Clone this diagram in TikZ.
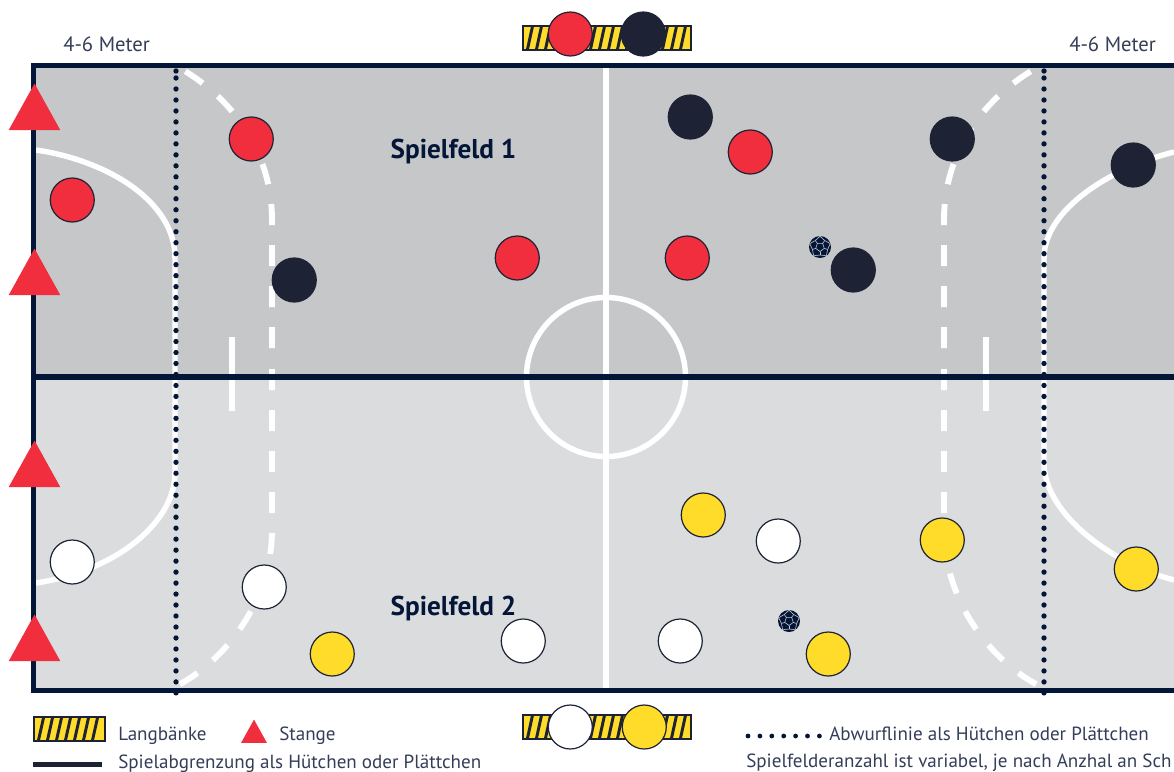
\documentclass[tikz,border=0pt]{standalone}
\usepackage{fontspec}
\setmainfont{PT Sans}
\usepackage{tikz}
\usetikzlibrary{calc, positioning, shapes.geometric}
\definecolor{fieldA}{RGB}{198, 199, 201}
\definecolor{fieldB}{RGB}{219, 220, 222}
\definecolor{navy}{RGB}{4, 22, 56}
\definecolor{darkteam}{RGB}{29, 34, 53}
\definecolor{redteam}{RGB}{241, 46, 62}
\definecolor{yellowteam}{RGB}{255, 220, 42}
\definecolor{labeltext}{RGB}{52, 62, 88}
\tikzset{
  player/.style={circle, draw=darkteam, line width=0.9pt, minimum size=33pt, inner sep=0pt, xshift=0.2pt},
  redplayer/.style={player, fill=redteam},
  darkplayer/.style={player, fill=darkteam},
  yellowplayer/.style={player, fill=yellowteam},
  whiteplayer/.style={player, fill=white},
  pole/.style={isosceles triangle, isosceles triangle apex angle=58, shape border rotate=90, fill=redteam, inner sep=0pt, minimum height=35pt},
  fieldline/.style={white, line width=4.1pt},
  dashline/.style={white, line width=4.4pt, dash pattern=on 15.75pt off 15pt},
  dotline/.style={navy, line width=4pt, line cap=round, dash pattern=on 0pt off 8.235pt},
  legendtext/.style={font=\fontsize{14.3}{16}\selectfont, text=labeltext, anchor=base west, inner sep=0pt},
  metertext/.style={legendtext, font=\fontsize{15.5}{18}\selectfont},
  fieldtitle/.style={font=\fontsize{20.4}{24}\selectfont\bfseries, text=navy, inner sep=0pt, anchor=base},
}
\newcommand{\bench}[5]{% left, top, right, bottom, name
  \node[fill=yellowteam, draw=darkteam, line width=1.5pt, inner sep=0pt, minimum width={(#3-#1)*0.75pt}, minimum height={(#4-#2)*0.75pt}] (#5) at ({(#1+#3)/2},{(#2+#4)/2}) {};
  \pgfmathsetmacro{\barstart}{#1+5}
  \pgfmathsetmacro{\barnext}{#1+14}
  \pgfmathsetmacro{\barend}{#3-7}
  \foreach \bx in {\barstart,\barnext,...,\barend} {
    \draw[darkteam, line width=2.2pt] (\bx,#4-0.8) -- (\bx+5,#2+0.8);
  }
}
\newcommand{\ball}[3]{% x, y, name
  \node[circle, fill=navy, minimum size=16.5pt, inner sep=0pt] (#3) at (#1,#2) {};
  \begin{scope}[shift={(#1,#2)}, draw=fieldA, line width=0.45pt]
    \draw (90:4.5) -- (162:4.5) -- (234:4.5) -- (306:4.5) -- (18:4.5) -- cycle;
    \foreach \ang in {90,162,234,306,18} {
      \draw (\ang:4.5) -- (\ang:8);
      \draw (\ang:8) -- (\ang+36:10.8) -- (\ang+72:8);
    }
  \end{scope}
}
\begin{document}
\begin{tikzpicture}[x=0.75pt, y=-0.75pt]
  \useasboundingbox (0,0) rectangle (1174,771);
  \clip (0,0) rectangle (1174,771);

  % fields
  \fill[fieldA] (33,65) rectangle (1174,377);
  \fill[fieldB] (33,377) rectangle (1174,691);

  % court lines
  \begin{scope}
    \clip (36,68) rectangle (1174,688);
    \draw[fieldline] (606,65) -- (606,691);
    \draw[fieldline] (606,377) circle (79.5);
    \draw[fieldline] (232,337) -- (232,411);
    \draw[fieldline] (986,337) -- (986,411);
    \draw[fieldline] (36,150) .. controls (105,160) and (175,200) .. (175,258) -- (175,473) .. controls (175,520) and (120,570) .. (36,583);
    \draw[fieldline] (1174,152) .. controls (1110,168) and (1044,210) .. (1044,258) -- (1044,463) .. controls (1044,515) and (1115,565) .. (1174,580);
    \draw[dashline] (272,348) -- (272,220) .. controls (272,150) and (230,95) .. (176,66);
    \draw[dashline] (272,369) -- (272,530) .. controls (272,600) and (225,665) .. (168,690);
    \draw[dashline] (944,348) -- (944,220) .. controls (944,150) and (986,95) .. (1040,66);
    \draw[dashline] (944,369) -- (944,530) .. controls (944,600) and (991,665) .. (1048,690);
  \end{scope}

  % frame
  \draw[navy, line width=3.8pt] (1180,65.5) -- (33.5,65.5) -- (33.5,690.5) -- (1180,690.5);
  \draw[navy, line width=3.8pt] (33,377) -- (1180,377);

  % throw lines
  \draw[dotline] (176,78) -- (176,694);
  \draw[dotline] (1044,78) -- (1044,694);
  \fill[navy] (176,71) circle (2.7) (1044,71) circle (2.7);

  % benches
  \bench{522.5}{25.5}{691}{50}{benchTop}
  \bench{522.5}{714.5}{691}{739}{benchBottom}
  \bench{33.5}{717}{105}{741}{benchLegend}

  % poles
  \foreach \py [count=\i] in {83,248,440,614} {
    \node[pole, anchor=apex] (pole\i) at (34.5,\py) {};
  }
  \node[pole, anchor=apex, minimum height=17.5pt] (poleLegend) at (254,719) {};

  % team red
  \foreach \px/\py [count=\i] in {72/200,251/139,517/258,687/258,750/152,570/34} {
    \node[redplayer] (red\i) at (\px,\py) {};
  }
  % team dark
  \foreach \px/\py [count=\i] in {690/117,952/139,1133/165,294/280,853/270,643/34} {
    \node[darkplayer] (dark\i) at (\px,\py) {};
  }
  % team yellow
  \foreach \px/\py [count=\i] in {703/515,942/540,1136/569,332/654,828/654,644/727} {
    \node[yellowplayer] (yellow\i) at (\px,\py) {};
  }
  % team white
  \foreach \px/\py [count=\i] in {72/562,264/587,523/641,680/641,778/541,570/727} {
    \node[whiteplayer] (white\i) at (\px,\py) {};
  }

  \ball{820}{247}{ballA}
  \ball{789}{621}{ballB}

  % labels
  \node[fieldtitle] (titleA) at (453.5,158) {Spielfeld 1};
  \node[fieldtitle] (titleB) at (453.5,615) {Spielfeld 2};
  \node[metertext] (meterL) at (63,51) {4-6 Meter};
  \node[metertext] (meterR) at (1069,51) {4-6 Meter};

  % legend
  \node[legendtext] (textBench) at (118,740) {Langbänke};
  \node[legendtext] (textPole) at (279,740) {Stange};
  \draw[darkteam, line width=4.1pt] (33,764.5) -- (102,764.5);
  \node[legendtext] (textLine) at (118,768) {Spielabgrenzung als Hütchen oder Plättchen};
  \foreach \i in {0,...,6} {
    \fill[navy] (748+\i*11.9,736) circle (2.4);
  }
  \node[legendtext] (textThrow) at (829,740) {Abwurflinie als Hütchen oder Plättchen};
  \node[legendtext] (textCount) at (746,767) {Spielfelderanzahl ist variabel, je nach Anzhal an Sch};
\end{tikzpicture}
\end{document}
